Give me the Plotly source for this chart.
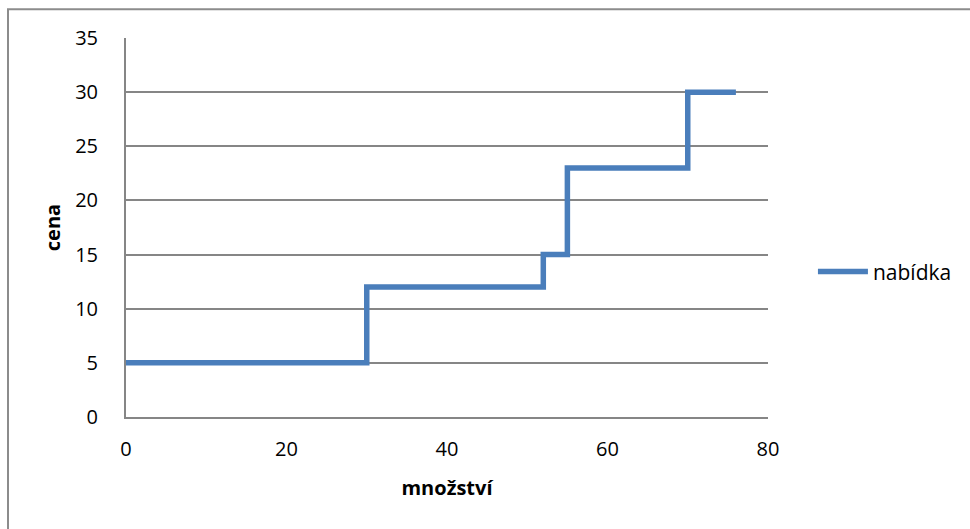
import plotly.graph_objects as go

# Supply schedule: quantity breakpoints and the price at each step
mnozstvi = [0, 30, 52, 55, 70, 76]
cena = [5, 12, 15, 23, 30, 30]
serie = "nabídka"

x_ticks = [0, 20, 40, 60, 80]
y_ticks = [0, 5, 10, 15, 20, 25, 30, 35]

GRID = "#868686"
BLUE = "#4A7EBB"
FONT = "Open Sans"

fig = go.Figure()
fig.add_trace(go.Scatter(
    x=mnozstvi, y=cena, mode="lines", name=serie,
    line=dict(shape="hv", color=BLUE, width=5.5),
))

fig.update_layout(
    width=970, height=529,
    margin=dict(l=126, r=202, t=38, b=112),
    paper_bgcolor="white", plot_bgcolor="white",
    font=dict(family=FONT, size=20, color="#000000"),
    showlegend=True,
    legend=dict(x=1.07, y=0.383, xanchor="left", yanchor="middle",
                font=dict(size=21), itemwidth=50, bgcolor="rgba(0,0,0,0)"),
    xaxis=dict(
        range=[0, 80], tickvals=x_ticks, showgrid=False, zeroline=False,
        showline=True, linecolor=GRID, linewidth=2, ticks="",
        ticklabelstandoff=13,
        title=dict(text="<b>množství</b>", standoff=20, font=dict(size=20)),
    ),
    yaxis=dict(
        range=[0, 35], tickvals=y_ticks, showgrid=True, gridcolor=GRID,
        gridwidth=2, zeroline=False, showline=True, linecolor=GRID,
        linewidth=2, ticks="", ticklabelstandoff=22,
        title=dict(text="<b>cena</b>", standoff=9, font=dict(size=20)),
    ),
    shapes=[dict(
        type="rect", xref="paper", yref="paper",
        x0=(8 - 126) / 642, x1=1.33, y0=-0.32, y1=(417.3 - 9) / 379.6,
        line=dict(color="#8C8C8C", width=2), fillcolor="rgba(0,0,0,0)",
        layer="below",
    )],
)

fig.write_html("out.html")
